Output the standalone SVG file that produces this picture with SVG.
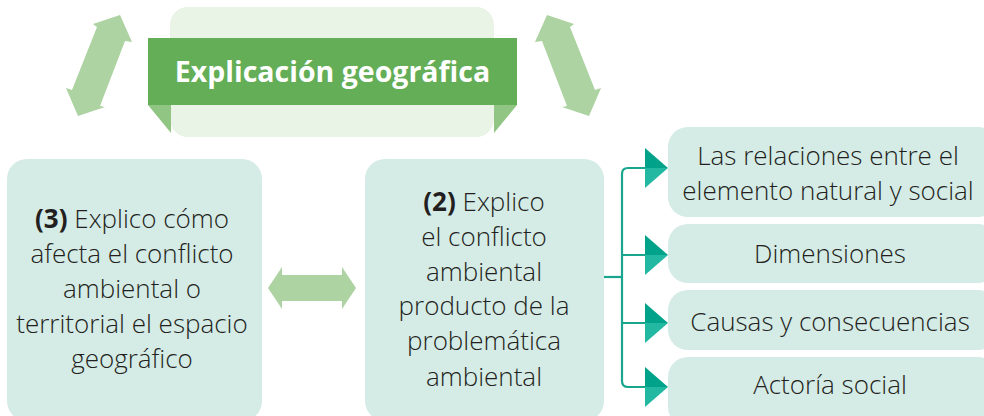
<svg xmlns="http://www.w3.org/2000/svg" width="984" height="416" viewBox="0 0 984 416">
<style>
.box{fill:#d5ebe6}
.t{font-family:"Open Sans","Noto Sans","Liberation Sans",sans-serif;font-size:26px;font-weight:300;fill:#231f20;text-anchor:middle}
.b{font-weight:700}
.arr{fill:#acd3a1}
.conn{fill:none;stroke:#1aa68e;stroke-width:2.2}
.tri1{fill:#00a38a}
.tri2{fill:#22b8a2}
</style>
<rect width="984" height="416" fill="#ffffff"/>
<g id="title">
<rect x="170" y="7" width="324" height="130" rx="18" fill="#e9f3e6"/>
<polygon points="148,105 171,105 171,133" fill="#90c583"/>
<polygon points="494,105 517,105 494,133" fill="#90c583"/>
<rect x="148" y="38" width="369" height="67" fill="#63ae56"/>
<text x="332.5" y="82" style="font-family:'Open Sans','Noto Sans','Liberation Sans',sans-serif;font-size:28.5px;font-weight:700;fill:#ffffff;text-anchor:middle">Explicación geográfica</text>
</g>
<g id="arrow-left">
<polygon class="arr" points="120,15 132,42 125,41 100,106 105,107 78,116 66,88 72,90 97,27 93,24"/>
</g>
<g id="arrow-right">
<polygon class="arr" points="547,15 535,42 542,41 567,106 562,107 589,116 601,88 595,90 570,27 574,24"/>
</g>
<g id="node3">
<rect class="box" x="7" y="159" width="255" height="262" rx="20"/>
<text class="t" x="132" y="228"><tspan class="b">(3)</tspan> Explico cómo</text>
<text class="t" x="132" y="263">afecta el conflicto</text>
<text class="t" x="132" y="298">ambiental o</text>
<text class="t" x="132" y="333">territorial el espacio</text>
<text class="t" x="132" y="368">geográfico</text>
</g>
<g id="arrow-middle">
<polygon class="arr" points="268,288 282,267 282,275 342,275 342,267 356,288 342,309 342,301 282,301 282,309"/>
</g>
<g id="node2">
<rect class="box" x="365" y="159" width="239" height="262" rx="20"/>
<text class="t" x="484" y="211"><tspan class="b">(2)</tspan> Explico</text>
<text class="t" x="484" y="246">el conflicto</text>
<text class="t" x="484" y="281">ambiental</text>
<text class="t" x="484" y="315">producto de la</text>
<text class="t" x="484" y="350">problemática</text>
<text class="t" x="484" y="386">ambiental</text>
</g>
<g id="connectors">
<path class="conn" d="M604,277 H622"/>
<path class="conn" d="M646,168 H628 Q622,168 622,174 V381 Q622,387 628,387 H646"/>
<path class="conn" d="M622,255 H646 M622,323 H646"/>
<polygon class="tri1" points="645,148 668,168 645,168"/>
<polygon class="tri2" points="645,168 668,168 645,188"/>
<polygon class="tri1" points="645,235 668,255 645,255"/>
<polygon class="tri2" points="645,255 668,255 645,275"/>
<polygon class="tri1" points="645,303 668,323 645,323"/>
<polygon class="tri2" points="645,323 668,323 645,343"/>
<polygon class="tri1" points="645,367 668,387 645,387"/>
<polygon class="tri2" points="645,387 668,387 645,407"/>
</g>
<g id="item1">
<rect class="box" x="668" y="127" width="330" height="90" rx="20"/>
<text class="t" x="828" y="165">Las relaciones entre el</text>
<text class="t" x="828" y="200">elemento natural y social</text>
</g>
<g id="item2">
<rect class="box" x="668" y="224" width="330" height="59" rx="20"/>
<text class="t" x="830" y="263">Dimensiones</text>
</g>
<g id="item3">
<rect class="box" x="668" y="290" width="330" height="60" rx="20"/>
<text class="t" x="830" y="331">Causas y consecuencias</text>
</g>
<g id="item4">
<rect class="box" x="668" y="357" width="330" height="70" rx="20"/>
<text class="t" x="830" y="394">Actoría social</text>
</g>
</svg>
